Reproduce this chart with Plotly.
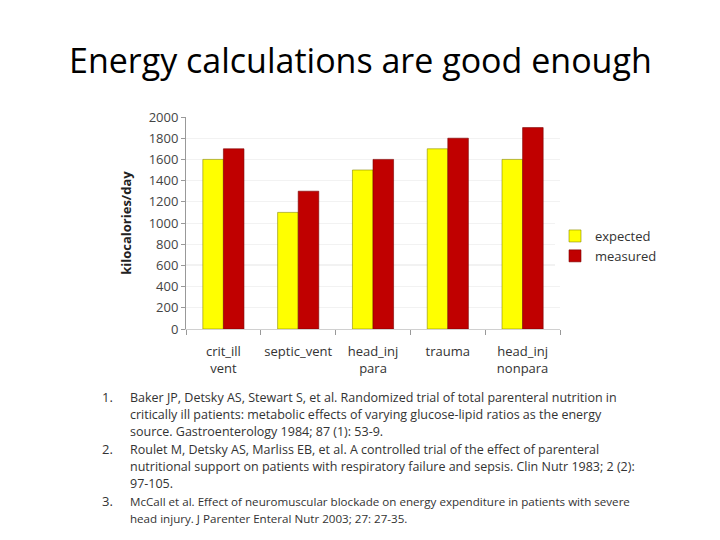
import plotly.graph_objects as go

categories = ["crit_ill<br>vent", "septic_vent", "head_inj<br>para", "trauma", "head_inj<br>nonpara"]
expected = [1600, 1100, 1500, 1700, 1600]
measured = [1700, 1300, 1600, 1800, 1900]
y_ticks = [0, 200, 400, 600, 800, 1000, 1200, 1400, 1600, 1800, 2000]
ref_line = 600

title_text = "Energy calculations are good enough"
refs = [
    ("1.", ["Baker JP, Detsky AS, Stewart S, et al. Randomized trial of total parenteral nutrition in",
            "critically ill patients: metabolic effects of varying glucose-lipid ratios as the energy",
            "source. Gastroenterology 1984; 87 (1): 53-9."], 12.5),
    ("2.", ["Roulet M, Detsky AS, Marliss EB, et al. A controlled trial of the effect of parenteral",
            "nutritional support on patients with respiratory failure and sepsis. Clin Nutr 1983; 2 (2):",
            "97-105."], 12.5),
    ("3.", ["McCall et al. Effect of neuromuscular blockade on energy expenditure in patients with severe",
            "head injury. J Parenter Enteral Nutr 2003; 27: 27-35."], 11.6),
]

fig = go.Figure()
fig.add_trace(go.Bar(name="expected", x=categories, y=expected,
                     marker=dict(color="#FFFF00", line=dict(color="#8a8a00", width=0.6))))
fig.add_trace(go.Bar(name="measured", x=categories, y=measured,
                     marker=dict(color="#C00000", line=dict(color="#7a0000", width=0.6))))

fig.add_hline(y=ref_line, line=dict(color="#808080", width=1), layer="below")

W, H = 720, 540
L, R, T, B = 186, 160, 117, 211


def px_x(x):
    return (x - L) / (W - L - R)


def px_y(y):
    return (H - B - y) / (H - T - B)


annotations = [
    dict(text=title_text, x=px_x(360), y=px_y(60), xref="paper", yref="paper",
         showarrow=False, font=dict(size=34, color="#000000", family="Open Sans"),
         xanchor="center", yanchor="middle"),
]

fig.update_layout(
    width=W, height=H,
    margin=dict(l=L, r=R, t=T, b=B),
    paper_bgcolor="white", plot_bgcolor="white",
    barmode="group", bargap=0.45, bargroupgap=0.0,
    font=dict(family="Open Sans", size=13, color="#333333"),
    showlegend=True,
    legend=dict(x=px_x(555), y=px_y(246), xanchor="left", yanchor="middle",
                font=dict(size=13, color="#333333"), tracegroupgap=4,
                itemwidth=30),
    xaxis=dict(showgrid=False, showline=True, linecolor="#d0d0d0", ticks="outside",
               tickson="boundaries", ticklen=5, tickcolor="#999999", tickangle=0,
               ticklabelstandoff=10,
               tickfont=dict(size=13, color="#333333")),
    yaxis=dict(range=[0, 2000], tickvals=y_ticks, showgrid=True, gridcolor="#f2f2f2",
               showline=True, linecolor="#999999", ticks="outside", ticklen=4,
               tickcolor="#999999", tickfont=dict(size=13, color="#444444"),
               title=dict(text="<b>kilocalories/day</b>", font=dict(size=13, color="#222222"), standoff=14),
               zeroline=False),
)

line_y = 397
step = 17.4
for num, lines, fs in refs:
    annotations.append(dict(text=num, x=px_x(100), y=px_y(line_y), xref="paper", yref="paper",
                            showarrow=False, xanchor="left", yanchor="middle",
                            font=dict(size=13, color="#333333", family="Open Sans")))
    for ln in lines:
        annotations.append(dict(text=ln, x=px_x(128), y=px_y(line_y), xref="paper", yref="paper",
                                showarrow=False, xanchor="left", yanchor="middle",
                                font=dict(size=fs, color="#333333", family="Open Sans")))
        line_y += step

fig.update_layout(annotations=annotations)
fig.write_html("out.html")
